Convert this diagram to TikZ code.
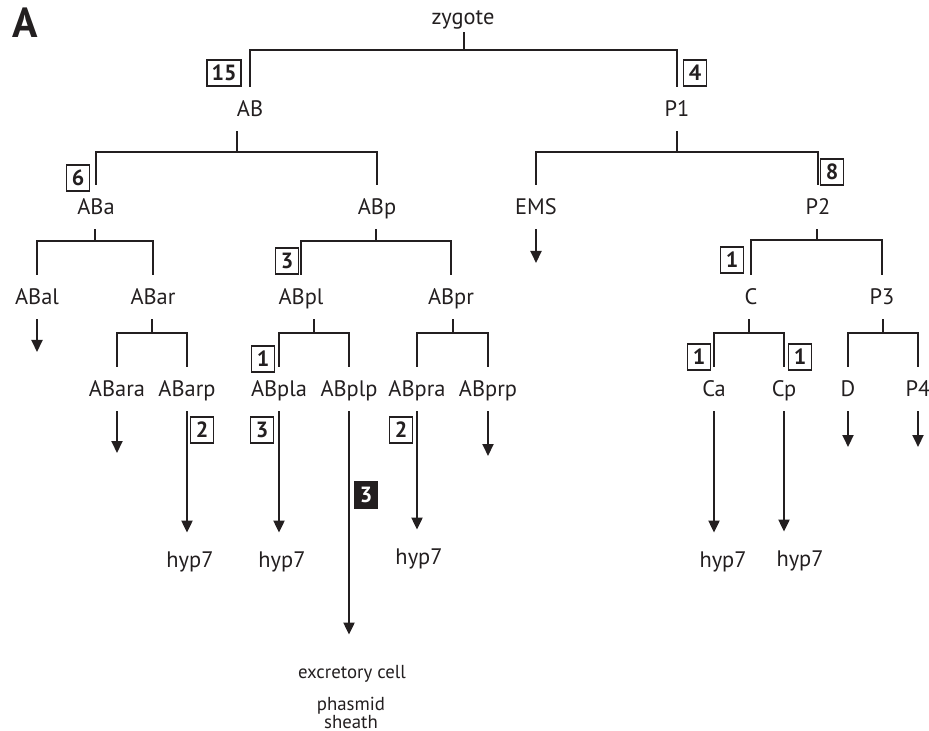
\documentclass[tikz,border=0pt]{standalone}
\usepackage{fontspec}
\setsansfont{PT Sans}
\usepackage{tikz}
\usetikzlibrary{arrows.meta,calc}
\definecolor{ink}{HTML}{231F20}
\tikzset{
  lineage-cell/.style={font=\sffamily\fontsize{11.2}{13}\selectfont, text=ink, inner sep=0pt,
    text height=7.5pt, text depth=0pt, minimum height=22pt},
  lineage-fate/.style={lineage-cell, minimum height=27pt},
  lineage-note/.style={font=\sffamily\fontsize{9.4}{9}\selectfont, text=ink, inner sep=0pt,
    align=center, text height=6.5pt, text depth=0pt},
  lineage-count/.style={draw=ink, line width=0.75pt, fill=white, text=ink, inner sep=0pt,
    font=\sffamily\bfseries\fontsize{11}{13}\selectfont, minimum width=11.5pt, minimum height=13pt},
  lineage-count-dark/.style={lineage-count, fill=ink, text=white},
  lineage-branch/.style={draw=ink, line width=1pt},
  lineage-arrow/.style={lineage-branch, -{Triangle[width=5.5pt,length=6pt]}}
}

\begin{document}
\begin{tikzpicture}[x=0.5pt, y=-0.5pt]
  \useasboundingbox (0,0) rectangle (929,731);
  \node[font=\sffamily\bfseries\fontsize{21}{24}\selectfont, text=ink, inner sep=0pt] (panel) at (25,23) {A};
  \node[lineage-cell, minimum height=15pt] (zygote) at (463,17) {zygote};
  \node[lineage-cell] (AB) at (250,109) {AB};
  \node[lineage-cell] (P1) at (677,109) {P1};
  \node[lineage-cell] (ABa) at (96,207) {ABa};
  \node[lineage-cell] (ABp) at (377,207) {ABp};
  \node[lineage-cell] (EMS) at (536,207) {EMS};
  \node[lineage-cell] (P2) at (818,207) {P2};
  \node[lineage-cell] (ABal) at (37,297) {ABal};
  \node[lineage-cell] (ABar) at (153,297) {ABar};
  \node[lineage-cell] (ABpl) at (301,297) {ABpl};
  \node[lineage-cell] (ABpr) at (451,297) {ABpr};
  \node[lineage-cell] (C) at (751,297) {C};
  \node[lineage-cell] (P3) at (882,297) {P3};
  \node[lineage-cell] (ABara) at (117,389) {ABara};
  \node[lineage-cell] (ABarp) at (187,389) {ABarp};
  \node[lineage-cell] (ABpla) at (279,389) {ABpla};
  \node[lineage-cell] (ABplp) at (349,389) {ABplp};
  \node[lineage-cell] (ABpra) at (417,389) {ABpra};
  \node[lineage-cell] (ABprp) at (488,389) {ABprp};
  \node[lineage-cell] (Ca) at (714,389) {Ca};
  \node[lineage-cell] (Cp) at (784,389) {Cp};
  \node[lineage-cell] (D) at (848,389) {D};
  \node[lineage-cell] (P4) at (918,389) {P4};
  \node[lineage-fate] (hyp-ABarp) at (190,560) {hyp7};
  \node[lineage-fate] (hyp-ABpla) at (282,560) {hyp7};
  \node[lineage-fate] (hyp-ABpra) at (419,557) {hyp7};
  \node[lineage-fate] (hyp-Ca) at (723,560) {hyp7};
  \node[lineage-fate] (hyp-Cp) at (800,559) {hyp7};
  \node[lineage-note, minimum height=37pt] (excretory) at (352,672) {excretory cell};
  \node[lineage-note] (phasmid) at (351,722) {phasmid\\sheath};
  \foreach \mother/\lchild/\rchild/\bary in {zygote/AB/P1/50, AB/ABa/ABp/152, P1/EMS/P2/152,
      ABa/ABal/ABar/241, ABp/ABpl/ABpr/241, P2/C/P3/240, ABar/ABara/ABarp/333,
      ABpl/ABpla/ABplp/333, ABpr/ABpra/ABprp/333, C/Ca/Cp/333, P3/D/P4/333} {
    \coordinate (row) at (0,\bary);
    \coordinate (mid) at ($(\lchild.north)!0.5!(\rchild.north)$);
    \draw[lineage-branch] (\lchild.north) |- (\rchild.north |- row) -- (\rchild.north);
    \draw[lineage-branch] (mid |- \mother.south) -- (mid |- row);
  }
  \foreach \fromcell/\endy in {ABal/352, EMS/263, ABara/453, ABprp/456, D/447, P4/447} {
    \coordinate (tip-row) at (0,\endy);
    \coordinate (\fromcell-end) at (\fromcell.south |- tip-row);
    \draw[lineage-arrow] (\fromcell.south) -- (\fromcell-end);
  }
  \foreach \fromcell in {ABarp,ABpla,ABpra,Ca,Cp}
    \draw[lineage-arrow] (\fromcell.south) -- (\fromcell.south |- hyp-\fromcell.north);
  \draw[lineage-arrow] (ABplp.south) -- (ABplp.south |- excretory.north);
  \node[lineage-count, minimum width=17pt] (n-AB) at (224,73) {15};
  \node[lineage-count] (n-P1) at (695,73) {4};
  \node[lineage-count] (n-ABa) at (78,178) {6};
  \node[lineage-count] (n-P2) at (832,172) {8};
  \node[lineage-count] (n-ABpl) at (287,261) {3};
  \node[lineage-count] (n-C) at (732,260) {1};
  \node[lineage-count] (n-ABpla) at (263,359) {1};
  \node[lineage-count] (n-Ca) at (699,357) {1};
  \node[lineage-count] (n-Cp) at (800,357) {1};
  \node[lineage-count] (n-ABarp) at (202,430) {2};
  \node[lineage-count] (n-ABpla-fate) at (262,430) {3};
  \node[lineage-count] (n-ABpra) at (401,430) {2};
  \node[lineage-count-dark] (n-ABplp) at (366,495) {3};
\end{tikzpicture}
\end{document}
